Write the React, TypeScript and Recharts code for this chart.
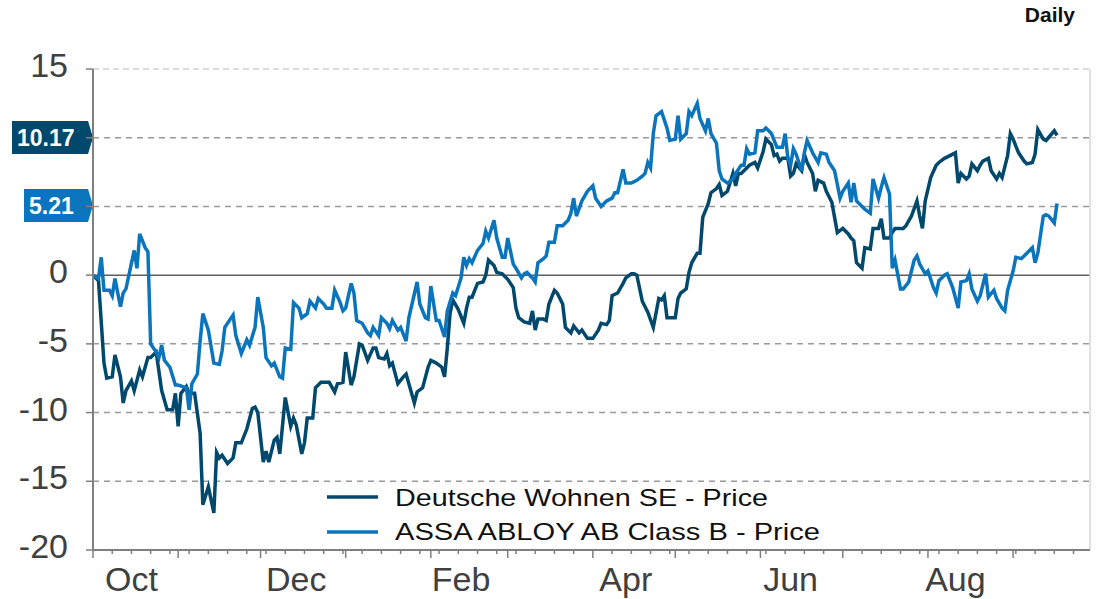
import { LineChart, Line, XAxis, YAxis, ReferenceLine, Legend } from "recharts"

// days counted from Oct 1; values are % change
const dwDays = [
  0, 2, 4, 5, 7, 8, 10, 11, 12, 14,
  15, 17, 18, 20, 21, 23, 25, 27, 29, 30,
  31, 32, 34, 35, 36, 37, 39, 40, 42, 44,
  45, 46, 47, 49, 51, 52, 54, 56, 58, 59,
  60, 62, 63, 64, 66, 67, 68, 70, 72, 73,
  74, 76, 77, 78, 80, 81, 83, 86, 88, 89,
  91, 92, 94, 95, 97, 98, 100, 102, 103, 104,
  106, 107, 108, 109, 111, 113, 114, 115, 117, 118,
  120, 122, 123, 125, 127, 128, 129, 130, 131, 133,
  135, 136, 137, 138, 140, 142, 143, 144, 146, 147,
  149, 151, 153, 154, 155, 157, 159, 160, 161, 162,
  164, 165, 166, 168, 169, 171, 172, 174, 175, 177,
  178, 180, 182, 184, 185, 187, 188, 189, 191, 193,
  194, 196, 197, 198, 200, 202, 204, 206, 207, 208,
  209, 212, 213, 214, 216, 217, 218, 220, 221, 222,
  224, 225, 227, 228, 229, 231, 233, 234, 235, 236,
  238, 239, 241, 242, 244, 245, 247, 248, 249, 250,
  251, 253, 254, 255, 256, 258, 259, 260, 262, 263,
  264, 266, 267, 269, 270, 271, 273, 275, 276, 277,
  278, 280, 281, 283, 284, 286, 287, 288, 290, 291,
  292, 295, 296, 298, 300, 301, 302, 303, 305, 307,
  308, 310, 312, 314, 315, 316, 318, 319, 320, 322,
  323, 324, 326, 327, 329, 330, 331, 333, 334, 335,
  337, 339, 340, 342, 343, 344, 346, 347, 350, 351,
]
const dwValues = [
  0, -0.4, -6.4, -7.5, -7.4, -5.8, -7.4, -9.3, -8.4, -7.7,
  -8.4, -6.9, -7.4, -6.0, -6.0, -5.6, -8.4, -9.8, -9.8, -8.6,
  -11.0, -8.6, -8.1, -8.6, -8.6, -8.6, -11.5, -16.7, -15.4, -17.3,
  -12.9, -13.3, -13.1, -13.7, -13.3, -12.2, -12.2, -11.2, -9.7, -9.6,
  -10.0, -13.6, -12.8, -13.6, -12.0, -11.8, -13.0, -8.9, -11.0, -10.4,
  -10.9, -13.0, -12.2, -10.4, -10.4, -8.2, -7.8, -7.8, -8.5, -7.9,
  -7.8, -5.6, -8.0, -7.4, -5.0, -5.1, -6.2, -5.3, -5.3, -6.0,
  -6.1, -5.7, -6.6, -6.4, -7.9, -7.4, -7.2, -7.9, -9.3, -8.5,
  -8.2, -6.7, -6.2, -6.4, -6.7, -7.4, -5.3, -2.8, -1.8, -2.5,
  -3.5, -2.4, -1.6, -1.6, -0.6, -0.5, 0.0, 1.1, 0.7, 0.2,
  0.1, -0.3, -0.9, -2.4, -3.1, -3.4, -3.5, -2.6, -4.0, -3.2,
  -3.2, -3.3, -2.1, -1.1, -1.3, -2.1, -3.8, -4.2, -3.7, -4.2,
  -4.0, -4.6, -4.6, -4.0, -3.5, -3.6, -3.3, -1.5, -1.3, -0.6,
  -0.2, 0.1, 0.1, 0.0, -1.9, -2.7, -3.8, -1.7, -1.8, -1.5,
  -3.1, -3.1, -1.7, -1.3, -1.0, 0.2, 0.9, 1.6, 1.6, 4.2,
  5.2, 6.0, 6.3, 6.6, 5.8, 6.1, 7.4, 6.5, 7.4, 7.4,
  7.8, 8.0, 8.2, 7.8, 9.0, 9.9, 9.5, 8.7, 8.8, 8.3,
  8.5, 8.5, 7.2, 7.4, 8.1, 7.6, 8.8, 8.2, 7.4, 6.1,
  6.9, 6.7, 6.1, 5.3, 4.2, 3.1, 3.4, 3.0, 2.7, 2.5,
  0.9, 0.5, 2.0, 1.9, 3.4, 3.4, 4.1, 2.7, 2.7, 3.1,
  3.4, 3.4, 3.6, 4.3, 5.4, 4.3, 3.4, 5.4, 7.1, 8.0,
  8.2, 8.5, 8.7, 8.9, 6.7, 7.4, 7.0, 7.2, 8.1, 7.6,
  8.0, 8.3, 8.5, 7.6, 7.0, 7.4, 7.1, 8.7, 10.3, 9.9,
  8.9, 8.3, 8.1, 8.2, 8.8, 10.6, 9.9, 9.8, 10.5, 10.17,
]

const aaDays = [
  0, 2, 3, 4, 6, 7, 8, 10, 11, 12,
  15, 16, 17, 19, 20, 21, 23, 24, 25, 26,
  28, 30, 31, 34, 35, 36, 38, 39, 40, 42,
  44, 46, 47, 48, 49, 51, 52, 54, 56, 57,
  59, 60, 62, 63, 65, 66, 68, 69, 70, 72,
  73, 75, 76, 78, 79, 81, 82, 84, 85, 87,
  88, 90, 91, 92, 94, 95, 96, 98, 100, 101,
  102, 104, 105, 107, 108, 109, 111, 112, 114, 115,
  118, 119, 121, 122, 123, 125, 126, 128, 129, 131,
  132, 134, 135, 136, 137, 138, 140, 142, 143, 144,
  146, 147, 149, 150, 151, 153, 154, 156, 157, 158,
  160, 161, 162, 164, 165, 166, 168, 169, 171, 173,
  174, 175, 176, 178, 180, 182, 183, 185, 187, 189,
  190, 191, 193, 194, 196, 198, 200, 201, 202, 203,
  204, 205, 207, 209, 210, 212, 213, 214, 216, 217,
  218, 220, 221, 223, 224, 225, 227, 228, 229, 231,
  233, 234, 236, 237, 238, 239, 241, 242, 244, 245,
  247, 248, 249, 251, 252, 253, 254, 255, 256, 258,
  259, 260, 262, 264, 265, 267, 268, 270, 272, 273,
  275, 276, 277, 278, 280, 281, 283, 284, 286, 287,
  288, 290, 291, 292, 294, 295, 297, 299, 300, 301,
  303, 304, 306, 307, 308, 310, 311, 313, 315, 316,
  318, 319, 320, 322, 323, 325, 326, 328, 329, 331,
  332, 333, 335, 336, 338, 339, 340, 342, 343, 344,
  346, 347, 348, 350, 351,
]
const aaValues = [
  0, -0.25, 1.3, -1.1, -1.1, -1.5, -0.25, -2.3, -1.3, -1.0,
  1.8, 0.5, 3.0, 2.0, 1.7, -5.0, -5.6, -6.0, -5.1, -6.2,
  -6.7, -8.0, -8.0, -8.2, -9.8, -7.9, -7.2, -4.8, -2.8, -4.0,
  -6.4, -6.5, -5.5, -3.8, -3.5, -2.9, -4.4, -5.7, -4.7, -5.1,
  -3.8, -1.6, -3.8, -6.0, -6.6, -6.4, -7.4, -7.5, -5.3, -5.4,
  -2.0, -2.4, -3.1, -2.8, -1.9, -2.4, -1.7, -2.1, -2.4, -2.4,
  -1.1, -2.0, -2.6, -2.4, -0.6, -1.3, -3.3, -3.5, -4.2, -4.4,
  -3.8, -4.4, -3.1, -3.5, -3.9, -3.3, -4.0, -3.8, -4.8, -3.1,
  -0.5, -2.1, -3.1, -3.2, -0.8, -3.3, -3.3, -4.5, -2.6, -1.3,
  -1.5, -0.2, 1.3, 0.7, 1.2, 0.9, 1.8, 2.3, 3.2, 2.7,
  4.0, 2.7, 1.3, 1.3, 2.7, 0.8, 0.5, -0.2, 0.1, 0.2,
  -0.2, -0.5, 0.9, 1.2, 1.4, 2.4, 2.4, 3.6, 3.6, 4.0,
  4.5, 5.6, 4.3, 5.4, 6.1, 6.5, 5.6, 5.0, 5.4, 5.6,
  6.0, 6.0, 7.7, 6.7, 6.7, 6.9, 7.2, 7.4, 8.2, 7.8,
  10.3, 11.6, 11.9, 10.7, 9.8, 9.9, 11.6, 9.9, 10.3, 11.9,
  11.6, 12.5, 11.4, 10.5, 11.4, 10.3, 9.6, 7.6, 7.0, 6.7,
  7.0, 7.4, 8.0, 8.0, 9.2, 8.8, 8.9, 10.5, 10.5, 10.7,
  10.3, 9.8, 9.3, 9.3, 10.3, 8.5, 8.0, 9.2, 8.8, 7.6,
  8.9, 9.8, 8.9, 8.2, 8.9, 8.8, 8.2, 7.6, 5.6, 6.1,
  6.7, 5.3, 6.7, 5.4, 5.0, 4.8, 4.5, 7.0, 5.6, 6.4,
  7.1, 5.9, 0.5, 1.1, -1.0, -1.0, -0.5, 1.1, 1.4, 0.8,
  0.1, 0.3, -0.9, -1.3, -0.4, 0.0, 0.1, -0.9, -2.4, -0.5,
  -0.4, 0.1, -1.0, -1.9, -1.5, 0.1, -1.6, -1.1, -1.7, -2.4,
  -2.6, -1.1, 0.3, 1.3, 1.2, 1.4, 1.6, 2.0, 0.9, 1.6,
  4.3, 4.4, 4.3, 3.8, 5.21,
]

const seriesNames = ["Deutsche Wohnen SE - Price", "ASSA ABLOY AB Class B - Price"]
const yTicks = [-20, -15, -10, -5, 0, 5, 10, 15]
const gridLevels = [10, 5, -5, -10, -15]
const monthStarts = [0, 31, 61, 92, 123, 151, 182, 212, 243, 273, 304, 335]
const monthLabels = ["Oct", "Dec", "Feb", "Apr", "Jun", "Aug"]
const labelDays = [14, 74, 134, 194, 254, 314]
const weekTicks = Array.from({ length: 52 }, (_, i) => i * 7)

const DARK = "#00486c"
const LIGHT = "#0a75bd"
const AXIS = "#7f7f7f"
const FONT = "'Liberation Sans', Arial, sans-serif"

const dwData = dwDays.map((d, i) => ({ d, v: dwValues[i] }))
const aaData = aaDays.map((d, i) => ({ d, v: aaValues[i] }))
const xTicks = Array.from(new Set([...weekTicks, ...monthStarts, ...labelDays])).sort((a, b) => a - b)
const lastDw = dwValues[dwValues.length - 1]
const lastAa = aaValues[aaValues.length - 1]

function XTick({ x, y, payload }: any) {
  const d = payload.value
  const major = monthStarts.includes(d)
  const minor = weekTicks.includes(d)
  const li = labelDays.indexOf(d)
  return (
    <g>
      {major && <line x1={x} x2={x} y1={y} y2={y + 8} stroke={AXIS} strokeWidth={1.5} />}
      {!major && minor && <line x1={x} x2={x} y1={y} y2={y + 4} stroke={AXIS} strokeWidth={1.5} />}
      {li >= 0 && (
        <text x={x} y={y + 41} textAnchor="middle" fontSize={34} fill="#404040" fontFamily={FONT}>
          {monthLabels[li]}
        </text>
      )}
    </g>
  )
}

function YTick({ x, y, payload }: any) {
  // the value badges sit on top of these labels
  if (Math.abs(payload.value - lastDw) < 2.5 || Math.abs(payload.value - lastAa) < 2.5) return <g />
  return (
    <text x={x} y={y + 8} textAnchor="end" fontSize={34} fill="#404040" fontFamily={FONT}>
      {payload.value}
    </text>
  )
}

function Badge({ viewBox, value, color, left }: any) {
  const c = viewBox.y + 2
  const pts = `${left},${c - 16.5} 88,${c - 16.5} 93,${c} 88,${c + 16.5} ${left},${c + 16.5}`
  return (
    <g>
      <polygon points={pts} fill={color} />
      <text x={left + 5} y={c + 8.5} fill="#fff" fontSize={23} fontWeight="bold" fontFamily={FONT}>
        {value}
      </text>
    </g>
  )
}

function LegendBox({ payload }: any) {
  const widths = [373, 425]
  const items = seriesNames.map((n) => (payload || []).find((p: any) => p.value === n)).filter(Boolean)
  return (
    <svg width={520} height={80}>
      {items.map((p: any, i: number) => (
        <g key={p.value}>
          <line x1={7} x2={58} y1={22 + i * 35} y2={22 + i * 35} stroke={p.color} strokeWidth={3.5} />
          <text
            x={75}
            y={31 + i * 34}
            fontSize={24}
            fill="#111"
            fontFamily={FONT}
            textLength={widths[i]}
            lengthAdjust="spacingAndGlyphs"
          >
            {p.value}
          </text>
        </g>
      ))}
    </svg>
  )
}

export default function App() {
  return (
    <div style={{ position: "absolute", left: 0, top: 0, width: 1099, height: 599, background: "#fff", fontFamily: FONT }}>
      <div style={{ position: "absolute", right: 24, top: 3, fontSize: 21, fontWeight: "bold", color: "#111" }}>Daily</div>
      <LineChart width={1099} height={599} margin={{ top: 69, right: 9, bottom: 0, left: 0 }}>
        <XAxis
          dataKey="d"
          type="number"
          domain={[0, 363]}
          ticks={xTicks}
          interval={0}
          height={49}
          tickSize={0}
          tickMargin={0}
          tick={<XTick />}
          axisLine={{ stroke: AXIS, strokeWidth: 2 }}
          allowDuplicatedCategory={false}
        />
        <YAxis
          type="number"
          domain={[-20, 15]}
          ticks={yTicks}
          interval={0}
          width={93}
          tickSize={7}
          tickMargin={18}
          tick={<YTick />}
          tickLine={{ stroke: AXIS, strokeWidth: 1.5 }}
          axisLine={{ stroke: AXIS, strokeWidth: 2 }}
        />
        <ReferenceLine y={15} stroke="#cfcfcf" strokeWidth={1.5} strokeDasharray="6 4" />
        {gridLevels.map((g) => (
          <ReferenceLine key={g} y={g} stroke="#9a9a9a" strokeWidth={1.5} strokeDasharray="6 5" />
        ))}
        <ReferenceLine y={0} stroke="#5f5f5f" strokeWidth={1.5} />
        <ReferenceLine x={363} stroke="#d6d6d6" strokeWidth={1.5} />
        <Line
          data={dwData}
          dataKey="v"
          name={seriesNames[0]}
          stroke={DARK}
          strokeWidth={3.5}
          dot={false}
          isAnimationActive={false}
        />
        <Line
          data={aaData}
          dataKey="v"
          name={seriesNames[1]}
          stroke={LIGHT}
          strokeWidth={3.5}
          dot={false}
          isAnimationActive={false}
        />
        <ReferenceLine
          y={lastDw}
          stroke="none"
          label={(props: any) => <Badge {...props} value={lastDw.toFixed(2)} color={DARK} left={12} />}
        />
        <ReferenceLine
          y={lastAa}
          stroke="none"
          label={(props: any) => <Badge {...props} value={lastAa.toFixed(2)} color={LIGHT} left={24} />}
        />
        <Legend
          layout="horizontal"
          verticalAlign="middle"
          align="center"
          content={<LegendBox />}
          wrapperStyle={{ position: "absolute", left: 320, top: 475, width: 520, height: 80 }}
        />
      </LineChart>
    </div>
  )
}
